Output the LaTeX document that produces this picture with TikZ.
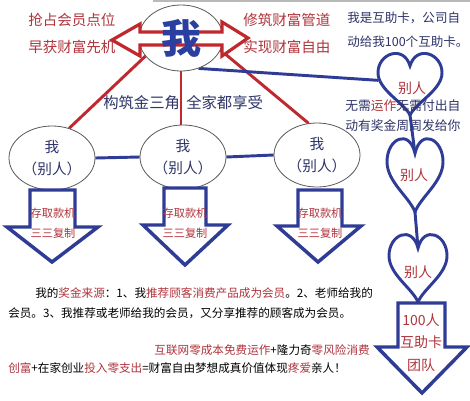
\documentclass[tikz,border=0pt]{standalone}
\usepackage{fontspec}
\setmainfont{Noto Sans CJK SC}
\usetikzlibrary{shapes.geometric,backgrounds}
\definecolor{myred}{HTML}{C0282E}
\definecolor{txtred}{HTML}{B0343C}
\definecolor{navy}{HTML}{2F3C96}
\definecolor{txtnavy}{HTML}{2E3468}
\definecolor{bigblue}{HTML}{2B3FA0}
\begin{document}
\begin{tikzpicture}[x=0.75pt,y=-0.75pt,
  oval/.style={ellipse,draw=gray!70!black,line width=0.6pt,fill=white,inner sep=0pt,
    minimum width=64.5pt,minimum height=48pt,align=center,text=txtnavy,
    font=\fontsize{11}{17}\selectfont},
  redline/.style={draw=myred,line width=2.2pt},
  blueline/.style={draw=navy,line width=2.2pt},
  blockarrow/.style={draw=navy,line width=2.6pt,fill=white,line join=miter},
  heartline/.style={draw=navy,line width=2.2pt,fill=white},
  redtxt/.style={text=txtred,inner sep=0pt},
  navytxt/.style={text=txtnavy,inner sep=0pt},
  blacktxt/.style={text=black,inner sep=0pt},
  heart/.pic={
    \draw[heartline] (0,1) .. controls (-0.2,0.8) and (-1,0.6) .. (-1,0.33)
      .. controls (-1,0.02) and (-0.2,-0.12) .. (0,0.22)
      .. controls (0.2,-0.12) and (1,0.02) .. (1,0.33)
      .. controls (1,0.6) and (0.2,0.8) .. (0,1) -- cycle;
    \coordinate (-dip) at (0,0.22);
    \coordinate (-tip) at (0,1);
    \coordinate (-west) at (-0.99,0.45);
  }]
\useasboundingbox (0,0) rectangle (470,400);
\draw[gray!55,line width=1.5pt] (153,1) -- (470,1);

% central ellipse
\node[oval,minimum width=63pt,minimum height=49.5pt] (c) at (181,38) {};
% small ellipses
\node[oval] (e1) at (52,158) {我\\（别人）};
\node[oval] (e2) at (183,157) {我\\（别人）};
\node[oval] (e3) at (317,155) {我\\（别人）};

% hearts
\pic (h1) at (410,52) [xscale=32,yscale=63] {heart};
\pic (h2) at (415,137) [xscale=28,yscale=75] {heart};
\pic (h3) at (418,233) [xscale=29,yscale=69] {heart};
\node[redtxt,font=\fontsize{10.5}{12}\selectfont] (h1t) at (412,88) {别人};
\node[redtxt,font=\fontsize{10.5}{12}\selectfont] (h2t) at (414,175) {别人};
\node[redtxt,font=\fontsize{10.5}{12}\selectfont] (h3t) at (418,272) {别人};

\begin{scope}[on background layer]
  \fill[white] (0,0) rectangle (470,400);
  \draw[redline] (c.207) -- (e1.60);
  \draw[redline] (c.-17) -- (e3.105);
  \draw[redline] (c.south) -- (c.south |- e2.north);
  \draw[blueline] (c.-60) -- (h1-west);
  \draw[blueline] (e1.east) -- (e2.west);
  \draw[blueline] (e2.east) -- (e3.west);
  \draw[blueline] (h1-tip) -- (h2-dip);
  \draw[blueline] (h2-tip) -- (h3-dip);
\end{scope}

% double arrow through centre
\draw[draw=myred,line width=2.4pt,fill=white,line join=miter]
  (112,40) -- (140,24) -- (140,32) -- (222,32) -- (222,22) -- (248,38)
  -- (222,56) -- (222,45) -- (140,45) -- (140,56) -- cycle;
\node[text=bigblue,inner sep=0pt,font=\fontsize{30}{30}\selectfont\bfseries] (wo) at (c.center) {我};

% block arrows
\draw[blockarrow] (30,190) -- (75,190) -- (75,227) -- (98,227) -- (52,262) -- (7,227) -- (30,227) -- cycle;
\draw[blockarrow] (164,188) -- (206,188) -- (206,225) -- (228,225) -- (185,265) -- (143,225) -- (164,225) -- cycle;
\draw[blockarrow] (298,190) -- (342,190) -- (342,226) -- (361,226) -- (318,262) -- (277,226) -- (298,226) -- cycle;
\draw[blockarrow] (398,303) -- (445,303) -- (445,347) -- (467,347) -- (422,393) -- (377,347) -- (398,347) -- cycle;

\foreach \n/\x in {a1/53,a2/185,a3/320}{
  \node[redtxt,font=\fontsize{8.4}{10}\selectfont] (\n x) at (\x,213) {存取款机};
  \node[redtxt,font=\fontsize{8.4}{10}\selectfont] (\n y) at (\x,233) {三三复制};
}
\node[redtxt,font=\fontsize{10.5}{12}\selectfont] (t1) at (421,320) {100人};
\node[redtxt,font=\fontsize{10.5}{12}\selectfont] (t2) at (421,342) {互助卡};
\node[redtxt,font=\fontsize{10.5}{12}\selectfont] (t3) at (421,365) {团队};

% top texts
\node[redtxt,anchor=west,font=\fontsize{10.9}{12}\selectfont] (tl1) at (28,20) {抢占会员点位};
\node[redtxt,anchor=west,font=\fontsize{10.9}{12}\selectfont] (tl2) at (28,47) {早获财富先机};
\node[redtxt,anchor=west,font=\fontsize{10.9}{12}\selectfont] (tr1) at (243,20) {修筑财富管道};
\node[redtxt,anchor=west,font=\fontsize{10.9}{12}\selectfont] (tr2) at (243,47) {实现财富自由};
\node[navytxt,anchor=west,font=\fontsize{9.4}{11}\selectfont] (k1) at (347,18) {我是互助卡，公司自};
\node[navytxt,anchor=west,font=\fontsize{9.4}{11}\selectfont] (k2) at (347,42) {动给我100个互助卡。};
\node[navytxt,anchor=west,font=\fontsize{11.5}{13}\selectfont] (g1) at (103,103) {构筑金三角};
\node[navytxt,anchor=west,font=\fontsize{11.5}{13}\selectfont] (g2) at (186,103) {全家都享受};
\node[navytxt,anchor=west,font=\fontsize{9.6}{11}\selectfont] (w1) at (345,106) {无需\textcolor{txtred}{运作}无需付出自};
\node[navytxt,anchor=west,font=\fontsize{9.6}{11}\selectfont] (w2) at (345,126) {动有奖金周周发给你};

% bottom texts
\node[blacktxt,anchor=west,font=\fontsize{8.7}{10}\selectfont] (p1) at (35,293)
  {我的\textcolor{txtred}{奖金来源}：1、我\textcolor{txtred}{推荐顾客消费产品成为会员}。2、老师给我的};
\node[blacktxt,anchor=west,font=\fontsize{8.7}{10}\selectfont] (p2) at (8,313)
  {会员。3、我推荐或老师给我的会员，又分享推荐的顾客成为会员。};
\node[blacktxt,anchor=east,font=\fontsize{8.7}{10}\selectfont] (b1) at (370,350)
  {\textcolor{txtred}{互联网零成本免费运作}+隆力奇\textcolor{txtred}{零风险消费}};
\node[blacktxt,anchor=west,font=\fontsize{8.7}{10}\selectfont] (b2) at (8,368)
  {\textcolor{txtred}{创富}+在家创业\textcolor{txtred}{投入零支出}=财富自由梦想成真价值体现\textcolor{txtred}{疼爱}亲人！};
\end{tikzpicture}
\end{document}
